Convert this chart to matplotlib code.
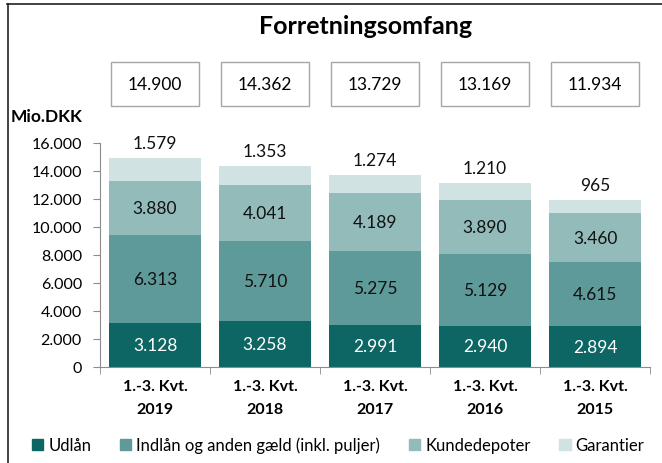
import matplotlib
matplotlib.use("Agg")
import matplotlib.pyplot as plt
import matplotlib.transforms as mtransforms
from matplotlib.patches import Rectangle
from matplotlib.lines import Line2D

categories = ["1.-3. Kvt.\n2019", "1.-3. Kvt.\n2018", "1.-3. Kvt.\n2017", "1.-3. Kvt.\n2016", "1.-3. Kvt.\n2015"]
udlaan = [3128, 3258, 2991, 2940, 2894]
indlaan = [6313, 5710, 5275, 5129, 4615]
kundedepoter = [3880, 4041, 4189, 3890, 3460]
garantier = [1579, 1353, 1274, 1210, 965]
totals = [14900, 14362, 13729, 13169, 11934]
series_names = ["Udlån", "Indlån og anden gæld (inkl. puljer)", "Kundedepoter", "Garantier"]
yticks = [0, 2000, 4000, 6000, 8000, 10000, 12000, 14000, 16000]

colors = ["#0e6664", "#5f9a9b", "#92bbba", "#d0e2e2"]
FONT = ["Lato", "DejaVu Sans"]
plt.rcParams['font.family'] = FONT

def fmt(v):
    return f"{v:,}".replace(",", ".")

fig = plt.figure(figsize=(6.62, 4.64), dpi=100)
ax = fig.add_axes([100/662, 96/464, 550/662, 224/464])

x = list(range(len(categories)))
bw = 0.845
bottom = [0]*len(x)
data = [udlaan, indlaan, kundedepoter, garantier]
for i, (vals, c) in enumerate(zip(data, colors)):
    ax.bar(x, vals, bw, bottom=bottom, color=c, label=series_names[i], zorder=2)
    for xi, v, bt in zip(x, vals, bottom):
        if i < 3:
            ax.text(xi, bt + v/2, fmt(v), ha="center", va="center", fontsize=12.5,
                    color="white" if i == 0 else "#111111")
        else:
            ax.annotate(fmt(v), (xi, bt + v), xytext=(0, 5), textcoords="offset points",
                        ha="center", va="bottom", fontsize=12.5, color="#111111")
    bottom = [b_ + v for b_, v in zip(bottom, vals)]

ax.set_xlim(-0.5, 4.5)
ax.set_ylim(0, 16000)
ax.set_yticks(yticks)
ax.set_yticklabels([fmt(v) for v in yticks], fontsize=11.5)
ax.set_xticks(x)
ax.set_xticklabels(categories, fontsize=11.5, fontweight="bold", linespacing=1.75)
ax.set_xticks([i - 0.5 for i in range(len(categories)+1)], minor=True)
ax.tick_params(axis="x", which="major", length=0, pad=9)
ax.tick_params(axis="x", which="minor", length=5, color="#8c8c8c", direction="out")
ax.tick_params(axis="y", length=5, color="#8c8c8c", pad=8)
for s in ["top", "right"]:
    ax.spines[s].set_visible(False)
for s in ["left", "bottom"]:
    ax.spines[s].set_color("#8c8c8c")
ax.set_facecolor("white")

# total boxes
tr = mtransforms.blended_transform_factory(ax.transData, fig.transFigure)
for xi, t in zip(x, totals):
    ax.add_patch(Rectangle((xi - 0.4, (464-107)/464), 0.8, 44/464, transform=tr,
                           facecolor="white", edgecolor="#a6a6a6", lw=1.0, clip_on=False))
    ax.text(xi, (464-85)/464, fmt(t), transform=tr, ha="center", va="center", fontsize=12.5)

fig.text(366/662, 1 - 27/464, "Forretningsomfang", ha="center", va="center",
         fontsize=18, fontweight="bold")
fig.text(11/662, 1 - 117/464, "Mio.DKK", ha="left", va="center", fontsize=12.5, fontweight="bold")

handles = [Rectangle((0, 0), 1, 1, color=c) for c in colors]
fig.legend(handles, series_names, loc="center", bbox_to_anchor=(338/662, 1 - 446/464),
           ncol=4, frameon=False, fontsize=12, handlelength=0.7, handleheight=0.7,
           handletextpad=0.3, columnspacing=1.7)

fig.add_artist(Line2D([7.5/662, 7.5/662], [0, 1 - 5/464], transform=fig.transFigure, color="#222222", lw=1.2))
fig.add_artist(Line2D([7/662, 1], [1 - 5/464, 1 - 5/464], transform=fig.transFigure, color="#222222", lw=1.2))

fig.savefig("out.png", dpi=100, facecolor="white")
